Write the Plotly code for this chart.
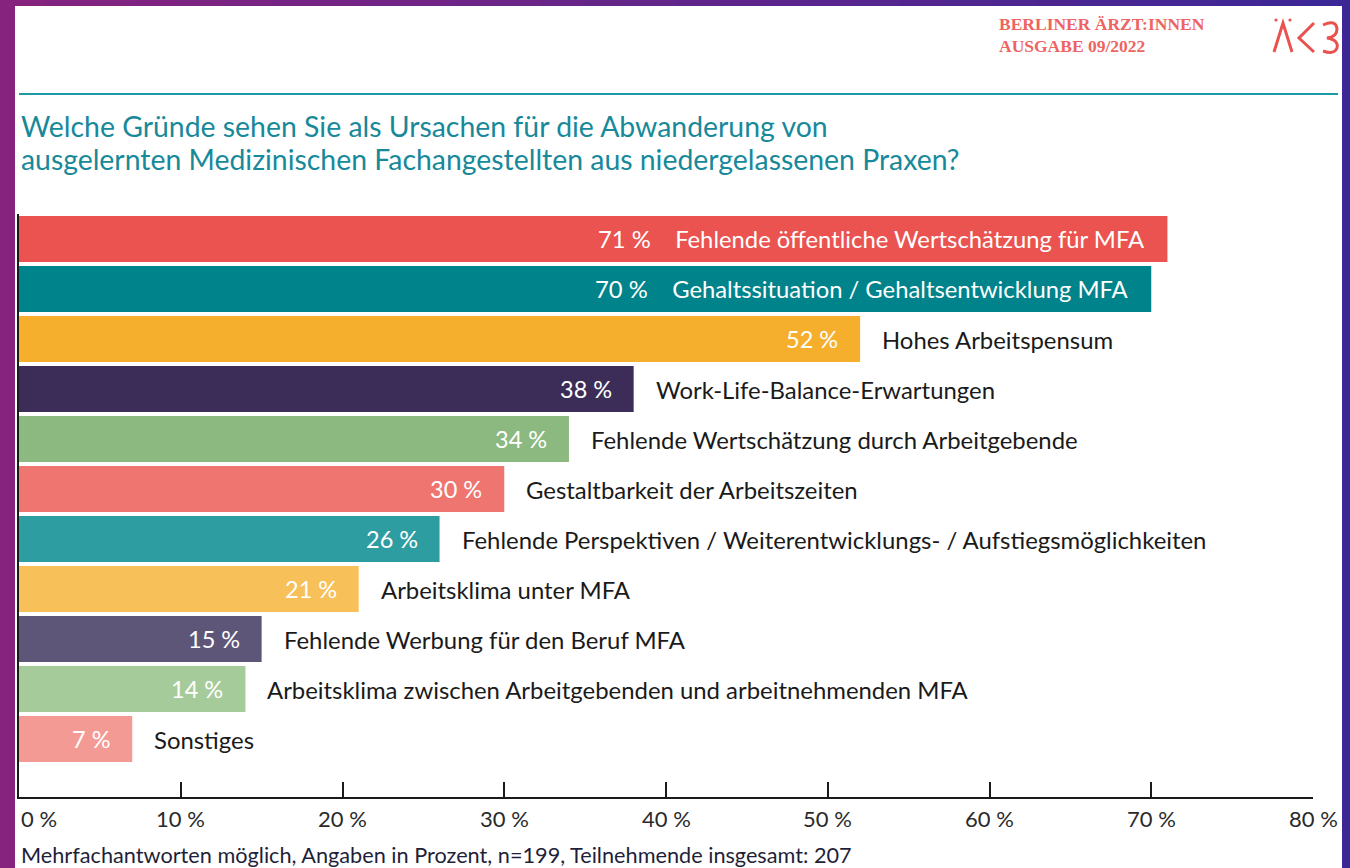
import plotly.graph_objects as go

categories = [
    "Fehlende öffentliche Wertschätzung für MFA",
    "Gehaltssituation / Gehaltsentwicklung MFA",
    "Hohes Arbeitspensum",
    "Work-Life-Balance-Erwartungen",
    "Fehlende Wertschätzung durch Arbeitgebende",
    "Gestaltbarkeit der Arbeitszeiten",
    "Fehlende Perspektiven / Weiterentwicklungs- / Aufstiegsmöglichkeiten",
    "Arbeitsklima unter MFA",
    "Fehlende Werbung für den Beruf MFA",
    "Arbeitsklima zwischen Arbeitgebenden und arbeitnehmenden MFA",
    "Sonstiges",
]
values = [71, 70, 52, 38, 34, 30, 26, 21, 15, 14, 7]
bar_colors = ["#ea5350", "#00838a", "#f6ae2d", "#3b2d57", "#8cb97f", "#ef7571",
              "#2e9da2", "#f8c058", "#5e5679", "#a6cb9a", "#f39a95"]
tick_values = [0, 10, 20, 30, 40, 50, 60, 70, 80]
tick_labels = ["0 %", "10 %", "20 %", "30 %", "40 %", "50 %", "60 %", "70 %", "80 %"]
inside_label_count = 2

title_lines = ["Welche Gründe sehen Sie als Ursachen für die Abwanderung von",
               "ausgelernten Medizinischen Fachangestellten aus niedergelassenen Praxen?"]
header_lines = ["BERLINER ÄRZT:INNEN", "AUSGABE 09/2022"]
footer = "Mehrfachantworten möglich, Angaben in Prozent, n=199, Teilnehmende insgesamt: 207"

W, H = 1350, 868
PL, PR, PT, PB = 19, 1313, 214, 797
FONT = "Source Sans Pro, Lato, Noto Sans, sans-serif"


def px(x):
    return (x - PL) / (PR - PL)


def py(y):
    return (PB - y) / (PB - PT)


def hexmix(a, b, t):
    a = [int(a[i:i + 2], 16) for i in (1, 3, 5)]
    b = [int(b[i:i + 2], 16) for i in (1, 3, 5)]
    return "#%02x%02x%02x" % tuple(round(a[k] + (b[k] - a[k]) * t) for k in range(3))


fig = go.Figure()
fig.add_trace(go.Bar(
    x=values, y=categories, orientation="h",
    marker=dict(color=bar_colors, line=dict(width=0)),
    hoverinfo="skip",
))

shapes = []
# purple gradient background
n = 30
for i in range(n):
    x0 = W * i / n
    x1 = W * (i + 1) / n + 1
    shapes.append(dict(type="rect", xref="paper", yref="paper", layer="below",
                       x0=px(x0), x1=px(x1), y0=py(H + 5), y1=py(-5),
                       fillcolor=hexmix("#86237f", "#3b2795", i / (n - 1)),
                       line=dict(width=0)))
# white panel
shapes.append(dict(type="rect", xref="paper", yref="paper", layer="below",
                   x0=px(15), x1=px(1342), y0=py(H + 5), y1=py(6),
                   fillcolor="white", line=dict(width=0)))
# teal rule
shapes.append(dict(type="line", xref="paper", yref="paper",
                   x0=px(19), x1=px(1338), y0=py(94), y1=py(94),
                   line=dict(color="#1c9aa6", width=2)))
# logo
red = "#e9524f"


def path(pts):
    return "M " + " L ".join(f"{px(a)},{py(b)}" for a, b in pts)


shapes.append(dict(type="path", xref="paper", yref="paper",
                   path=path([(1274, 52), (1283, 23), (1292, 52)]),
                   line=dict(color=red, width=3)))
shapes.append(dict(type="path", xref="paper", yref="paper",
                   path=path([(1314, 23), (1299, 38), (1314, 52)]),
                   line=dict(color=red, width=3)))
curve = (f"M {px(1323)},{py(25)} Q {px(1336)},{py(19)} {px(1337)},{py(29)} "
         f"Q {px(1337)},{py(37)} {px(1327)},{py(38)} "
         f"Q {px(1339)},{py(40)} {px(1337)},{py(48)} "
         f"Q {px(1334)},{py(55)} {px(1323)},{py(51)}")
shapes.append(dict(type="path", xref="paper", yref="paper", path=curve,
                   line=dict(color=red, width=3)))
for dx in (1276, 1290):
    shapes.append(dict(type="circle", xref="paper", yref="paper",
                       x0=px(dx - 1.6), x1=px(dx + 1.6), y0=py(21.6), y1=py(18.4),
                       fillcolor=red, line=dict(width=0)))

annotations = []
for i, (cat, v) in enumerate(zip(categories, values)):
    if i < inside_label_count:
        annotations.append(dict(
            x=v, y=cat, xref="x", yref="y", xanchor="right", xshift=-20,
            text=f"{v} %&nbsp;&nbsp;&nbsp;&nbsp;{cat}", showarrow=False,
            font=dict(family=FONT, size=23.8, color="white")))
    else:
        annotations.append(dict(
            x=v, y=cat, xref="x", yref="y", xanchor="right", xshift=-20,
            text=f"{v} %", showarrow=False,
            font=dict(family=FONT, size=23.5, color="white")))
        annotations.append(dict(
            x=v, y=cat, xref="x", yref="y", xanchor="left", xshift=20,
            text=cat, showarrow=False,
            font=dict(family=FONT, size=23.9, color="#1a1a1a")))

for i, (tv, tl) in enumerate(zip(tick_values, tick_labels)):
    annotations.append(dict(
        x=tv, y=py(818), xref="x", yref="paper",
        xanchor="left" if i == 0 else "center", yanchor="middle",
        text=tl, showarrow=False,
        font=dict(family=FONT, size=22, color="#2a2a2a")))

for k, line in enumerate(title_lines):
    annotations.append(dict(
        x=px(19), y=py(126 + 33 * k), xref="paper", yref="paper",
        xanchor="left", yanchor="middle", text=line, showarrow=False,
        font=dict(family=FONT, size=28.4, color="#17899a")))

for k, line in enumerate(header_lines):
    annotations.append(dict(
        x=px(997), y=py(24 + 22 * k), xref="paper", yref="paper",
        xanchor="left", yanchor="middle", text=f"<b>{line}</b>", showarrow=False,
        font=dict(family="Liberation Serif, DejaVu Serif, serif", size=17.5, color="#ee6461")))

annotations.append(dict(
    x=px(19), y=py(855), xref="paper", yref="paper",
    xanchor="left", yanchor="middle", text=footer, showarrow=False,
    font=dict(family=FONT, size=21.7, color="#1f1f3a")))

fig.update_layout(
    width=W, height=H,
    margin=dict(l=PL, r=W - PR, t=PT, b=H - PB, pad=0),
    paper_bgcolor="white", plot_bgcolor="rgba(0,0,0,0)",
    showlegend=False, bargap=0.08,
    shapes=shapes, annotations=annotations,
    xaxis=dict(range=[0, 80], tickvals=tick_values, showticklabels=False,
               ticks="inside", ticklen=15, tickwidth=1.5, tickcolor="#1a1a1a",
               showline=True, linecolor="#1a1a1a", linewidth=1.5,
               showgrid=False, zeroline=False, fixedrange=True),
    yaxis=dict(categoryorder="array", categoryarray=categories,
               range=[11.16, -0.5], showticklabels=False, ticks="",
               showline=True, linecolor="#1a1a1a", linewidth=1.5,
               showgrid=False, zeroline=False, fixedrange=True),
)

fig.write_html("out.html", config={"displayModeBar": False},
               post_script="document.body.style.margin='0';document.body.style.overflow='hidden';")
